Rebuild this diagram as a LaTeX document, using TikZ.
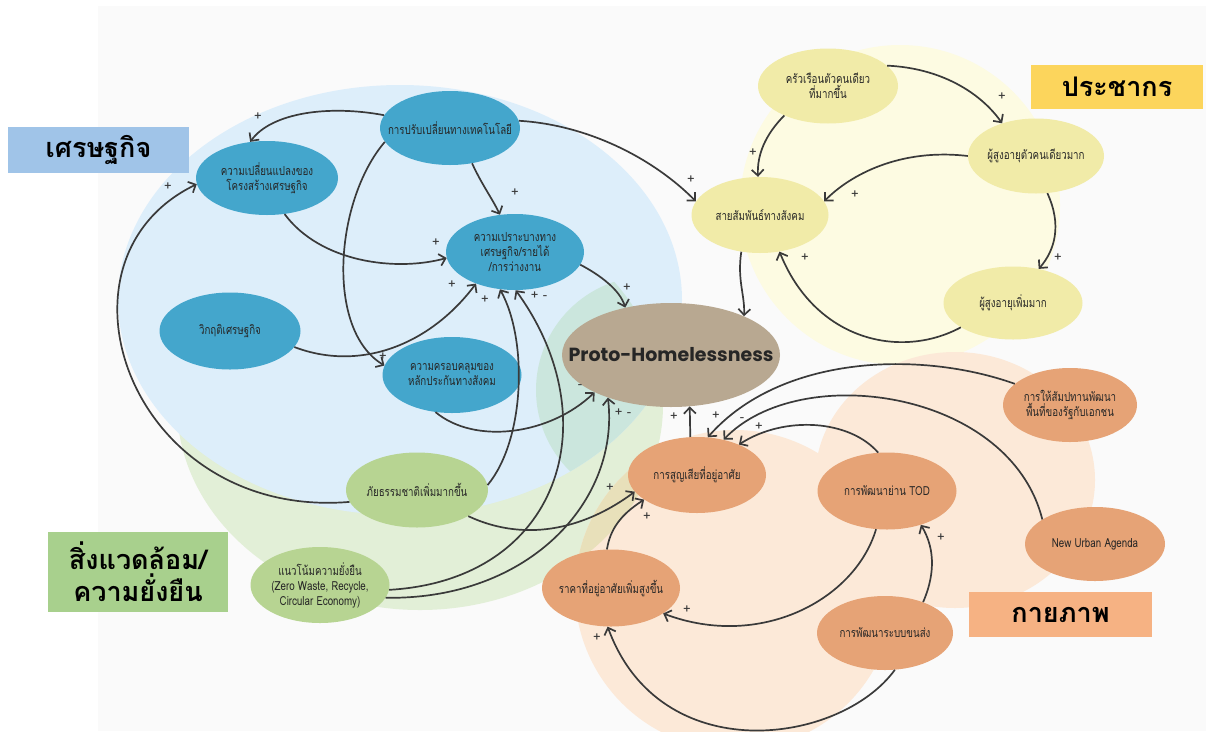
\documentclass[tikz,border=0pt]{standalone}
\usepackage{fontspec}
\newfontfamily\thaifont[Script=Thai,FakeStretch=0.78]{Loma}
\newfontfamily\tagfont[Script=Thai]{Loma}
\newfontfamily\headfont{Poppins}
\usetikzlibrary{shapes.geometric,arrows.meta}
\definecolor{paper}{RGB}{250,250,250}
\definecolor{econbg}{RGB}{221,238,250}
\definecolor{envbg}{RGB}{226,239,215}
\definecolor{tealbg}{RGB}{203,230,221}
\definecolor{popbg}{RGB}{253,251,226}
\definecolor{physbg}{RGB}{252,233,216}
\definecolor{khakibg}{RGB}{232,224,186}
\definecolor{econfill}{RGB}{68,166,204}
\definecolor{popfill}{RGB}{241,235,168}
\definecolor{envfill}{RGB}{183,212,146}
\definecolor{physfill}{RGB}{230,163,118}
\definecolor{protofill}{RGB}{184,168,145}
\definecolor{econtag}{RGB}{160,196,232}
\definecolor{poptag}{RGB}{252,213,92}
\definecolor{envtag}{RGB}{168,208,141}
\definecolor{phystag}{RGB}{246,178,131}
\definecolor{linkcol}{RGB}{58,58,58}
\tikzset{
  factor/.style={ellipse,minimum width=139pt,minimum height=76pt,inner xsep=-30pt,inner ysep=0pt,
    align=center,text=black!85,font=\thaifont\fontsize{12.5}{15}\selectfont},
  econ/.style={factor,fill=econfill},
  popl/.style={factor,fill=popfill},
  envr/.style={factor,fill=envfill},
  phys/.style={factor,fill=physfill},
  grouptag/.style={rectangle,inner sep=0pt,align=center,font=\tagfont\bfseries\fontsize{27}{32}\selectfont},
  cause/.style={draw=linkcol,line width=1.7pt,-{Straight Barb[length=6pt,width=12pt]}},
  polarity/.style={inner sep=0pt,text=linkcol,font=\tagfont\fontsize{13}{13}\selectfont}
}
\begin{document}
\begin{tikzpicture}[x=1pt,y=-1pt]
\useasboundingbox (0,0) rectangle (1206,731);
% backgrounds
\fill[paper] (98,6) rectangle (1206,731);
\fill[envbg] (420,405) ellipse [x radius=243,y radius=205];
\fill[econbg] (400,300) ellipse [x radius=282,y radius=215];
\begin{scope}
  \clip (400,300) ellipse [x radius=282,y radius=215];
  \clip (420,405) ellipse [x radius=243,y radius=205];
  \fill[tealbg] (650,390) circle [radius=114];
\end{scope}
\fill[popbg] (900,205) circle [radius=160];
\fill[physbg] (735,590) circle [radius=160];
\fill[physbg] (955,480) ellipse [x radius=140,y radius=128];
\begin{scope}
  \clip (420,405) ellipse [x radius=243,y radius=205];
  \fill[khakibg] (735,590) circle [radius=160];
\end{scope}

% group tags
\node[grouptag,fill=econtag,minimum width=181pt,minimum height=46pt] (tagecon) at (98.5,150) {เศรษฐกิจ};
\node[grouptag,fill=poptag,minimum width=172pt,minimum height=44pt] (tagpop) at (1117,87) {ประชากร};
\node[grouptag,fill=envtag,minimum width=180pt,minimum height=80pt] (tagenv) at (138,572) {สิ่งแวดล้อม/\\ความยั่งยืน};
\node[grouptag,fill=phystag,minimum width=183pt,minimum height=45pt] (tagphys) at (1060.5,614.5) {กายภาพ};

% economy
\node[econ,minimum width=140pt,minimum height=74pt] (tech) at (450,128) {การปรับเปลี่ยนทางเทคโนโลยี};
\node[econ,minimum width=142pt,minimum height=74pt] (struct) at (267,178) {ความเปลี่ยนแปลงของ\\โครงสร้างเศรษฐกิจ};
\node[econ,minimum width=138pt] (vuln) at (515,252) {ความเปราะบางทาง\\เศรษฐกิจ/รายได้\\/การว่างงาน};
\node[econ,minimum width=141pt,minimum height=77pt] (crisis) at (230,331) {วิกฤติเศรษฐกิจ};
\node[econ] (cover) at (452,375) {ความครอบคลุมของ\\หลักประกันทางสังคม};
% environment
\node[envr,minimum width=142pt,minimum height=75pt] (disaster) at (417,490) {ภัยธรรมชาติเพิ่มมากขึ้น};
\node[envr] (sustain) at (320,585) {แนวโน้มความยั่งยืน\\(Zero Waste, Recycle,\\Circular Economy)};
% population
\node[popl,minimum width=140pt,minimum height=75pt] (family) at (828,86) {ครัวเรือนตัวคนเดียว\\ที่มากขึ้น};
\node[popl,minimum width=136pt,minimum height=75pt] (elderalone) at (1036,156) {ผู้สูงอายุตัวคนเดียวมาก};
\node[popl,minimum width=137pt] (social) at (760,215) {สายสัมพันธ์ทางสังคม};
\node[popl,minimum height=73pt] (elder) at (1013,303) {ผู้สูงอายุเพิ่มมาก};
% physical
\node[phys,minimum width=138pt] (loss) at (697,475) {การสูญเสียที่อยู่อาศัย};
\node[phys,minimum height=77pt] (tod) at (887,491) {การพัฒนาย่าน TOD};
\node[phys,minimum width=134pt,minimum height=74pt] (concession) at (1070,405) {การให้สัมปทานพัฒนา\\พื้นที่ของรัฐกับเอกชน};
\node[phys,minimum width=140pt,minimum height=74pt] (nua) at (1095,544) {New Urban Agenda};
\node[phys,minimum width=138pt,minimum height=77pt] (price) at (611,588) {ราคาที่อยู่อาศัยเพิ่มสูงขึ้น};
\node[phys,minimum width=136pt,minimum height=74pt] (transit) at (885,633) {การพัฒนาระบบขนส่ง};

\node[ellipse,fill=protofill,minimum width=218pt,minimum height=104pt,inner xsep=-50pt,inner ysep=0pt,
  text=black!85,font=\headfont\bfseries\fontsize{19}{22}\selectfont] (proto) at (671,355) {Proto-Homelessness};

% links
\draw[cause] (tech.169) .. controls (330,105) and (272,112) .. (struct.115);
\draw[cause] (tech.302) .. controls (482,185) and (492,198) .. (vuln.112);
\draw[cause] (tech.192) .. controls (335,200) and (325,330) .. (cover.172);
\draw[cause] (tech.6) .. controls (590,125) and (655,160) .. (social.168);
\draw[cause] (struct.296) .. controls (320,262) and (395,272) .. (vuln.185);
\draw[cause] (crisis.346) .. controls (360,372) and (430,345) .. (vuln.219);
\draw[cause] (disaster.190) .. controls (130,520) and (40,260) .. (struct.185);
\draw[cause] (disaster.4) .. controls (525,440) and (528,340) .. (vuln.248);
\draw[cause] (sustain.356) .. controls (560,580) and (610,420) .. (vuln.271);
\draw[cause] (sustain.349) .. controls (530,600) and (620,500) .. (proto.214);
\draw[cause] (cover.246) .. controls (475,445) and (550,435) .. (proto.206);
\draw[cause] (vuln.349) .. controls (600,275) and (620,290) .. (proto.134);
\draw[cause] (disaster.333) .. controls (530,545) and (590,525) .. (loss.195);
\draw[cause] (price.96) .. controls (610,530) and (620,515) .. (loss.205);
\draw[cause] (loss.100) -- (proto.290);
\draw[cause] (social.243) .. controls (737,280) and (745,295) .. (proto.28);
\draw[cause] (family.19) .. controls (940,68) and (980,92) .. (elderalone.136);
\draw[cause] (family.214) .. controls (765,135) and (757,155) .. (social.93);
\draw[cause] (elderalone.180) .. controls (900,148) and (850,175) .. (social.12);
\draw[cause] (elderalone.287) .. controls (1062,225) and (1055,250) .. (elder.53);
\draw[cause] (elder.205) .. controls (900,360) and (815,340) .. (social.298);
\draw[cause] (concession.159) .. controls (920,350) and (780,355) .. (loss.74);
\draw[cause] (nua.155) .. controls (1010,390) and (800,360) .. (loss.53);
\draw[cause] (tod.103) .. controls (850,420) and (785,415) .. (loss.36);
\draw[cause] (tod.254) .. controls (855,600) and (760,650) .. (price.334);
\draw[cause] (transit.39) .. controls (937,570) and (933,545) .. (tod.315);
\draw[cause] (transit.285) .. controls (840,745) and (660,770) .. (price.265);

% polarities
\foreach \s/\x/\y [count=\i] in {+/258/117, +/515/193, +/383/357, +/691/180, +/436/243, +/452/285,
  +/168/187, +/485/300, {+ -}/539/296, {+ -}/623/413, -/580/387, +/627/288, +/610/488, +/647/517,
  +/674/417, +/753/153, +/1002/97, +/855/195, +/1058/258, +/805/258, +/716/416, -/742/420,
  +/759/427, +/687/610, +/941/538, +/597/638}
  \node[polarity] (sg\i) at (\x,\y) {\s};
\end{tikzpicture}
\end{document}
